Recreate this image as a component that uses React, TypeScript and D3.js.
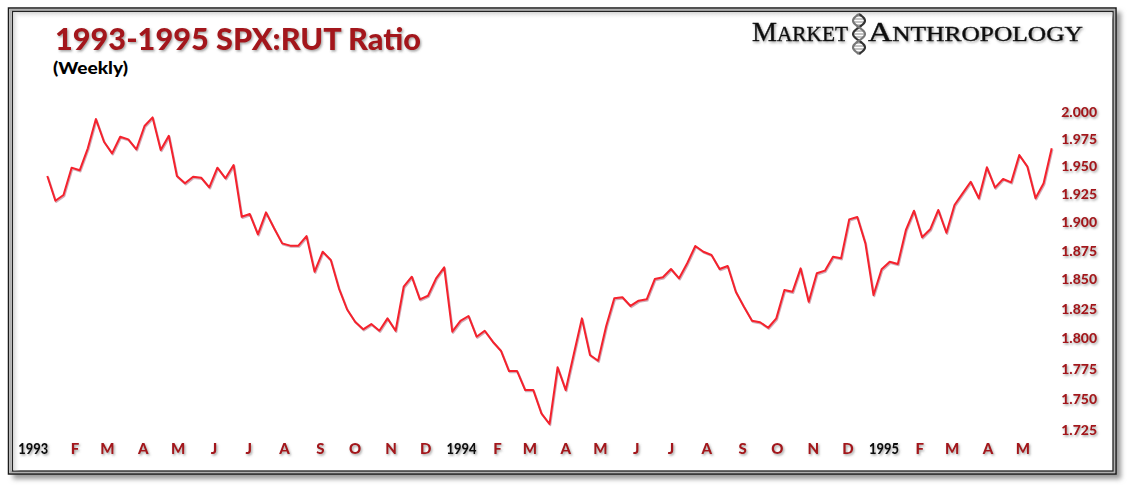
import React from "react";
import * as d3 from "d3";

// Weekly SPX:RUT ratio, first week of Jan 1993 to end of May 1995
const ratio: number[] = [
  1.941, 1.9188, 1.9239, 1.9485, 1.9461, 1.9661, 1.993, 1.9721, 1.9615, 1.9767,
  1.9743, 1.9652, 1.9866, 1.9945, 1.9646, 1.9776, 1.941, 1.9344, 1.9403, 1.9394,
  1.9308, 1.9485, 1.9389, 1.9509, 1.9046, 1.907, 1.8891, 1.9085, 1.8944, 1.8812,
  1.8792, 1.8792, 1.8876, 1.8566, 1.8739, 1.8667, 1.8423, 1.8245, 1.814, 1.8076,
  1.812, 1.8064, 1.8168, 1.8064, 1.8437, 1.8523, 1.8329, 1.836, 1.8509, 1.8604,
  1.8056, 1.8146, 1.8188, 1.8014, 1.8064, 1.7972, 1.7897, 1.7729, 1.7729, 1.7573,
  1.7573, 1.7384, 1.7298, 1.776, 1.7573, 1.787, 1.8168, 1.7861, 1.7814, 1.8104,
  1.8338, 1.8347, 1.8273, 1.8318, 1.8329, 1.8503, 1.8518, 1.8589, 1.8509, 1.8639,
  1.8789, 1.8739, 1.8711, 1.8589, 1.8615, 1.8394, 1.8267, 1.8148, 1.8135, 1.8089,
  1.8168, 1.8409, 1.8394, 1.8595, 1.8309, 1.8552, 1.8575, 1.8696, 1.8682, 1.9023,
  1.9044, 1.8812, 1.8366, 1.8587, 1.8652, 1.8632, 1.8929, 1.9099, 1.8865, 1.8935,
  1.9106, 1.8905, 1.915, 1.9254, 1.9358, 1.921, 1.9488, 1.9305, 1.9383, 1.9353,
  1.96, 1.9494, 1.921, 1.9344, 1.9661,
];
const firstWeek = new Date(1993, 0, 8);

const yTicks: number[] = [2.0, 1.975, 1.95, 1.925, 1.9, 1.875, 1.85, 1.825, 1.8, 1.775, 1.75, 1.725];
const monthLabels: string[] = [
  "1993", "F", "M", "A", "M", "J", "J", "A", "S", "O", "N", "D",
  "1994", "F", "M", "A", "M", "J", "J", "A", "S", "O", "N", "D",
  "1995", "F", "M", "A", "M",
];
const titleText = "1993-1995 SPX:RUT Ratio";
const subtitleText = "(Weekly)";

const W = 1133;
const H = 485;
const RED = "#a3191b";
const LINE = "#f5222d";
const SANS = "Lato, 'Open Sans', sans-serif";

export default function App() {
  const dates = ratio.map((_, i) => d3.timeWeek.offset(firstWeek, i));
  const x = d3.scaleTime().domain([dates[0], dates[dates.length - 1]]).range([47.3, 1051.7]);
  const y = d3.scaleLog().domain([1.725, 2.0]).range([430, 111.5]);
  const line = d3
    .line<number>()
    .x((_, i) => x(dates[i]))
    .y((d) => y(d));
  const path = line(ratio) || "";
  const months = d3.timeMonth.range(new Date(1993, 0, 1), new Date(1995, 5, 1));

  // DNA helix decoration for logo
  const helixA: [number, number][] = [];
  const helixB: [number, number][] = [];
  for (let t = 0; t <= 40; t++) {
    const yy = 14 + t;
    const ph = (t / 40) * Math.PI * 3;
    helixA.push([859 + 6 * Math.sin(ph), yy]);
    helixB.push([859 - 6 * Math.sin(ph), yy]);
  }
  const hl = d3.line().curve(d3.curveBasis);
  const rungs: number[] = [];
  for (let t = 2; t < 40; t += 3) rungs.push(t);

  return (
    <svg
      width={W}
      height={H}
      style={{ position: "absolute", left: 0, top: 0, background: "#fff" }}
    >
      <defs>
        <filter id="ts" x="-10%" y="-30%" width="130%" height="170%">
          <feDropShadow dx="1.2" dy="1.5" stdDeviation="0.9" floodColor="#555" floodOpacity="0.55" />
        </filter>
        <filter id="fs" x="-5%" y="-5%" width="110%" height="110%">
          <feGaussianBlur stdDeviation="2.5" />
        </filter>
        <linearGradient id="innerTop" x1="0" y1="0" x2="0" y2="1">
          <stop offset="0" stopColor="#d8d8d8" />
          <stop offset="1" stopColor="#fff" stopOpacity="0" />
        </linearGradient>
        <linearGradient id="innerLeft" x1="0" y1="0" x2="1" y2="0">
          <stop offset="0" stopColor="#d8d8d8" />
          <stop offset="1" stopColor="#fff" stopOpacity="0" />
        </linearGradient>
      </defs>

      {/* frame */}
      <rect x={13} y={12} width={1108} height={467} fill="#9a9a9a" filter="url(#fs)" />
      <rect x={8.5} y={8} width={1107.5} height={466} fill="#fff" stroke="#1a1a1a" strokeWidth={1.5} />
      <rect x={10.5} y={10} width={1103.5} height={462} fill="none" stroke="#b0b0b0" strokeWidth={2} />
      <rect x={12.5} y={11.5} width={1100.5} height={459.5} fill="none" stroke="#222" strokeWidth={1.3} />
      <rect x={13.5} y={12.5} width={1099} height={7} fill="url(#innerTop)" />
      <rect x={13.5} y={12.5} width={7} height={458} fill="url(#innerLeft)" />

      {/* title */}
      <text
        x={55}
        y={50}
        fill={RED}
        fontFamily={SANS}
        fontWeight={900}
        fontSize={30}
        textLength={366}
        lengthAdjust="spacingAndGlyphs"
        filter="url(#ts)"
      >
        {titleText}
      </text>
      <text
        x={53}
        y={74}
        fill="#000"
        fontFamily={SANS}
        fontWeight={900}
        fontSize={17}
        textLength={75}
        lengthAdjust="spacingAndGlyphs"
      >
        {subtitleText}
      </text>

      {/* logo */}
      <g filter="url(#ts)" fontFamily="'Liberation Serif', 'DejaVu Serif', serif" fill="#111" stroke="#111" strokeWidth={0.4}>
        <text x={752} y={41} textLength={96} lengthAdjust="spacingAndGlyphs">
          <tspan fontSize={27}>M</tspan>
          <tspan fontSize={20.5}>ARKET</tspan>
        </text>
        <text x={868} y={41} textLength={215} lengthAdjust="spacingAndGlyphs">
          <tspan fontSize={27}>A</tspan>
          <tspan fontSize={20.5}>NTHROPOLOGY</tspan>
        </text>
      </g>
      <g>
        {rungs.map((t) => (
          <line
            key={t}
            x1={helixA[t][0]}
            x2={helixB[t][0]}
            y1={helixA[t][1]}
            y2={helixB[t][1]}
            stroke="#8a8a8a"
            strokeWidth={1}
          />
        ))}
        <path d={hl(helixA) || ""} fill="none" stroke="#333" strokeWidth={2.2} />
        <path d={hl(helixB) || ""} fill="none" stroke="#777" strokeWidth={2.2} />
      </g>

      {/* y axis labels */}
      <g
        fontFamily={SANS}
        fontWeight={900}
        fontSize={14}
        fill={RED}
        textAnchor="end"
        filter="url(#ts)"
      >
        {yTicks.map((v) => (
          <text key={v} x={1097} y={y(v)} dy="0.36em">
            {d3.format(".3f")(v)}
          </text>
        ))}
      </g>

      {/* x axis labels */}
      <g
        fontFamily={SANS}
        fontWeight={900}
        fontSize={15}
        textAnchor="middle"
        filter="url(#ts)"
      >
        {months.map((m, i) => {
          const lab = monthLabels[i];
          const isYear = lab.length > 1;
          return (
            <text
              key={i}
              x={x(m)}
              dx={i === 0 ? -6 : 0}
              y={454}
              fill={isYear ? "#111" : RED}
              textLength={isYear ? 30 : undefined}
              lengthAdjust="spacingAndGlyphs"
            >
              {lab}
            </text>
          );
        })}
      </g>

      {/* data line */}
      <path
        d={path}
        fill="none"
        stroke="#7a1030"
        strokeOpacity={0.35}
        strokeWidth={2}
        transform="translate(0.8,1.2)"
        strokeLinejoin="round"
      />
      <path d={path} fill="none" stroke={LINE} strokeWidth={2} strokeLinejoin="round" />
    </svg>
  );
}
